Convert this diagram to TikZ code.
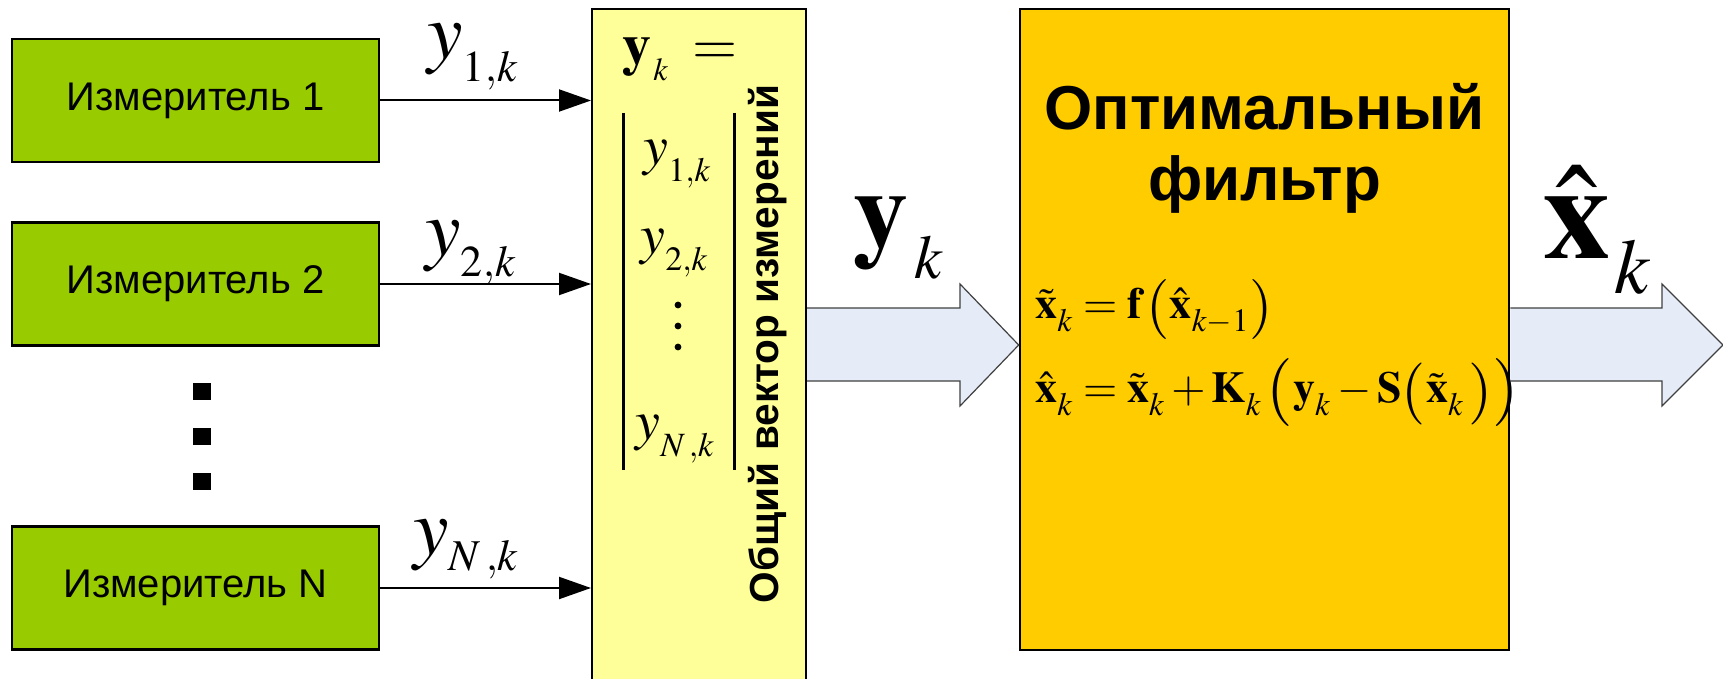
\documentclass[tikz,border=0pt]{standalone}
\usepackage[no-math]{fontspec}
\usepackage{amsmath}
\usepackage{mathptmx}
\newfontfamily\arial{Liberation Sans}
\usetikzlibrary{arrows.meta}
\newcommand\fsz[1]{\fontsize{#1}{#1}\selectfont}
\newcommand\lsub[1]{_{\raisebox{-3.5pt}{$\scriptstyle #1$}}}
\newcommand\popen[2]{\mathopen{\raisebox{-#2}{\fsz{#1}$($}}}
\newcommand\pclose[2]{\mathclose{\raisebox{-#2}{\fsz{#1}$)$}}}
\definecolor{grn}{HTML}{99CC00}
\definecolor{ylw}{HTML}{FFFF99}
\definecolor{org}{HTML}{FFCC00}
\definecolor{arrfill}{HTML}{E6ECF7}
\definecolor{arrgray}{HTML}{404040}
\begin{document}
\begin{tikzpicture}[x=0.5pt,y=-0.5pt,
  meas/.style={draw=black, line width=1.3pt, fill=grn, minimum width=183.5pt,
    minimum height=61.5pt, inner sep=0pt, font=\arial\fsz{20}},
  thinarr/.style={line width=1pt, -{Triangle[length=16pt,width=11pt]}},
  bigarr/.style={draw=arrgray, line width=0.6pt, fill=arrfill},
  lbl/.style={inner sep=0pt, anchor=base west},
  bar/.style={line width=1.5pt}]
\useasboundingbox (0,0) rectangle (1723,679);

% blocks
\node[meas] (m1) at (195.5,100.5) {Измеритель 1};
\node[meas] (m2) at (195.5,284) {Измеритель 2};
\node[meas] (mN) at (195.5,588) {Измеритель N};
\node[draw, line width=1pt, fill=ylw, minimum width=107pt, minimum height=350pt,
  inner sep=0pt] (vec) at (699,359) {};
\node[draw, line width=1.3pt, fill=org, minimum width=244.5pt, minimum height=320.5pt,
  inner sep=0pt] (filt) at (1264.5,329.5) {};

% dots between meters
\fill (193,383) rectangle (211,400);
\fill (193,428) rectangle (211,445);
\fill (193,473) rectangle (211,490);

% thin arrows
\draw[thinarr] (m1.east) -- (m1.east -| vec.west);
\draw[thinarr] (m2.east) -- (m2.east -| vec.west);
\draw[thinarr] (mN.east) -- (mN.east -| vec.west);

% labels of thin arrows
\node[lbl] (l1) at (427,59) {\fsz{40}$y$\raisebox{-11.5pt}{\fsz{22}$1{,}k$}};
\node[lbl] (l2) at (425,256) {\fsz{40}$y$\raisebox{-10.5pt}{\fsz{22}$2{,}k$}};
\node[lbl] (lN) at (413,554) {\fsz{40}$y$\raisebox{-8pt}{\fsz{22}$N\,{,}k$}};

% content of the vector block
\node[lbl] (yk) at (622,65) {\fsz{29}$\mathbf{y}$\hspace{1pt}\raisebox{-8pt}{\fsz{16}$k$}\hspace{12pt}$=$};
\draw[bar] (623,113) -- (623,470);
\draw[bar] (734,113) -- (734,470);
\node[lbl] (c1) at (643,165) {\fsz{28}$y$\raisebox{-8.5pt}{\fsz{17}$1{,}k$}};
\node[lbl] (c2) at (640,254) {\fsz{28}$y$\raisebox{-8.5pt}{\fsz{17}$2{,}k$}};
\node[lbl] (cN) at (635,439) {\fsz{28}$y$\raisebox{-8.5pt}{\fsz{17}$N\,{,}k$}};
\fill (678,305) circle[radius=1.7pt];
\fill (678,326) circle[radius=1.7pt];
\fill (678,347) circle[radius=1.7pt];
\node[rotate=90, anchor=base, inner sep=0pt, font=\arial\bfseries\fsz{20.3}] (vt)
  at (778,344) {Общий вектор измерений};

% big arrows
\draw[bigarr] (vec.east |- 0,308) -- (960,308) -- (960,284) -- (filt.west |- 0,345)
  -- (960,406) -- (960,381) -- (vec.east |- 0,381);
\coordinate (out) at (1723,345);
\draw[bigarr] (filt.east |- 0,308) -- (1662,308) -- (1662,284) -- (out)
  -- (1662,406) -- (1662,381) -- (filt.east |- 0,381);

\node[lbl] (ylab) at (853,248) {\fsz{55}$\mathbf{y}$\hspace{3pt}\raisebox{-15.5pt}{\fsz{31}$k$}};
\node[lbl] (xlab) at (1543,258) {\fsz{67}$\hat{\mathbf{x}}$\hspace{2pt}\raisebox{-17.5pt}{\fsz{39}$k$}};

% filter content
\node[font=\arial\bfseries\fontsize{31}{35.5}\selectfont, align=center, anchor=base,
  inner sep=0pt] (title) at (1264.5,201) {Оптимальный\\фильтр};
\node[lbl] (eq1) at (1035,318) {\fsz{22}$\tilde{\mathbf{x}}\lsub{k} = \mathbf{f}\,\popen{30}{3pt}\hat{\mathbf{x}}\lsub{k-1}\pclose{30}{3pt}$};
\node[lbl] (eq2) at (1035,402) {\fsz{22}$\hat{\mathbf{x}}\lsub{k} = \tilde{\mathbf{x}}\lsub{k} + \mathbf{K}\lsub{k}\,\popen{34}{3.5pt}\mathbf{y}\lsub{k} - \mathbf{S}\popen{31}{3.5pt}\tilde{\mathbf{x}}\lsub{k}\,\pclose{31}{3.5pt}\pclose{34}{3.5pt}$};
\end{tikzpicture}
\end{document}
